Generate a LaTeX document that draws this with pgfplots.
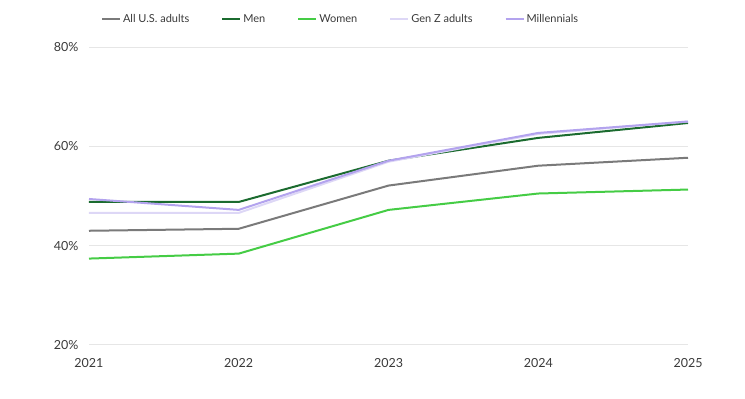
\documentclass[border=0pt]{standalone}
\usepackage{pgfplots}
\pgfplotsset{compat=1.18}
\usepackage{fontspec}
\setmainfont{Lato}
\definecolor{cAll}{HTML}{7A7A7A}
\definecolor{cMen}{HTML}{1B6B2F}
\definecolor{cWomen}{HTML}{45CC45}
\definecolor{cGenZ}{HTML}{DDD7F6}
\definecolor{cMil}{HTML}{B3A3EE}
\definecolor{cGrid}{HTML}{E6E6E6}
\definecolor{cText}{HTML}{3A3A3A}
\begin{document}
\begin{tikzpicture}[x=1pt,y=1pt]
\useasboundingbox (-89,-54) rectangle (656,345);
\begin{axis}[
  at={(0,0)}, anchor=origin,
  scale only axis, width=599pt, height=298pt,
  xmin=2021, xmax=2025, ymin=20, ymax=80,
  xtick={2021,2022,2023,2024,2025},
  ytick={20,40,60,80},
  xticklabel={\pgfmathprintnumber[1000 sep={}]{\tick}},
  yticklabel={\pgfmathprintnumber{\tick}\%},
  /pgf/number format/assume math mode=true,
  ticklabel style={font=\fontsize{12.5}{14}\selectfont, text=cText},
  xticklabel style={yshift=-10pt},
  yticklabel style={xshift=-7pt},
  axis line style={draw=none},
  major tick length=0pt,
  ymajorgrids, grid style={cGrid, line width=1pt},
  legend columns=5,
  legend style={at={(0.42,1.0)}, anchor=center, yshift=28pt, draw=none, fill=none,
    font=\fontsize{11}{13}\selectfont, text=cText,
    /tikz/every even column/.append style={column sep=30pt}},
  legend cell align=left,
  legend image code/.code={\draw[line width=2pt,#1] (0pt,0pt) -- (18pt,0pt);},
  every axis plot/.append style={line width=2pt},
  clip=false,
]
\addplot[cAll, mark=none] coordinates {(2021,43.0) (2022,43.4) (2023,52.1) (2024,56.1) (2025,57.7)};
\addlegendentry{All U.S. adults}
\addplot[cMen, mark=none] coordinates {(2021,48.8) (2022,48.8) (2023,57.1) (2024,61.7) (2025,64.7)};
\addlegendentry{Men}
\addplot[cWomen, mark=none] coordinates {(2021,37.4) (2022,38.4) (2023,47.2) (2024,50.5) (2025,51.3)};
\addlegendentry{Women}
\addplot[cGenZ, mark=none] coordinates {(2021,46.6) (2022,46.6) (2023,56.9) (2024,62.5) (2025,65.0)};
\addlegendentry{Gen Z adults}
\addplot[cMil, mark=none] coordinates {(2021,49.4) (2022,47.2) (2023,57.1) (2024,62.7) (2025,65.0)};
\addlegendentry{Millennials}
\end{axis}
\end{tikzpicture}
\end{document}
